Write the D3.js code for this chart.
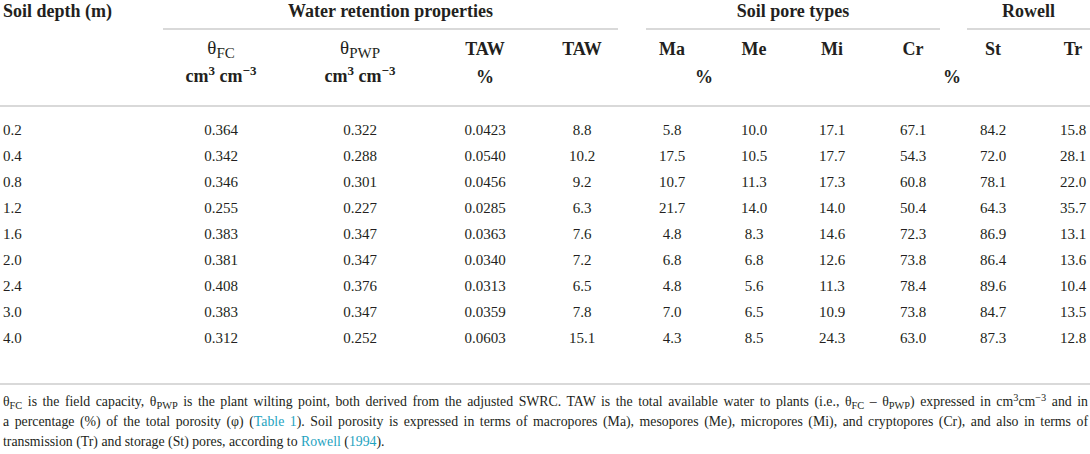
<!DOCTYPE html>
<html><head><meta charset="utf-8">
<script src="https://cdn.jsdelivr.net/npm/d3@7"></script>
<style>
html,body{margin:0;padding:0;background:#fff;}
svg{display:block;}
</style></head>
<body>
<svg id="chart" width="1090" height="454" font-family="Liberation Serif, Times New Roman, serif"></svg>
<script>
// ---- data ----
const depths = ["0.2","0.4","0.8","1.2","1.6","2.0","2.4","3.0","4.0"];
const thetaFC  = [0.364,0.342,0.346,0.255,0.383,0.381,0.408,0.383,0.312];
const thetaPWP = [0.322,0.288,0.301,0.227,0.347,0.347,0.376,0.347,0.252];
const tawVol   = [0.0423,0.0540,0.0456,0.0285,0.0363,0.0340,0.0313,0.0359,0.0603];
const tawPct   = [8.8,10.2,9.2,6.3,7.6,7.2,6.5,7.8,15.1];
const ma = [5.8,17.5,10.7,21.7,4.8,6.8,4.8,7.0,4.3];
const me = [10.0,10.5,11.3,14.0,8.3,6.8,5.6,6.5,8.5];
const mi = [17.1,17.7,17.3,14.0,14.6,12.6,11.3,10.9,24.3];
const cr = [67.1,54.3,60.8,50.4,72.3,73.8,78.4,73.8,63.0];
const st = [84.2,72.0,78.1,64.3,86.9,86.4,89.6,84.7,87.3];
const tr = [15.8,28.1,22.0,35.7,13.1,13.6,10.4,13.5,12.8];
const groupLabels = ["Water retention properties","Soil pore types","Rowell"];
const columnKeys = ["depth","fc","pwp","tawv","tawp","ma","me","mi","cr","st","tr"];

// ---- layout ----
const svg = d3.select("#chart");
const ink = "#231f20", rule = "#cccccc", link = "#1fa3bf";
const colX = d3.scaleOrdinal().domain(columnKeys)
  .range([3,221,360,485,582,672,754,832,913,993,1073]);
const rowY = d3.scaleBand().domain(depths).range([117,351]);

const columns = [
  {key:"depth", vals:depths, fmt:d=>d, anchor:"start"},
  {key:"fc", vals:thetaFC, fmt:d3.format(".3f")},
  {key:"pwp", vals:thetaPWP, fmt:d3.format(".3f")},
  {key:"tawv", vals:tawVol, fmt:d3.format(".4f")},
  {key:"tawp", vals:tawPct, fmt:d3.format(".1f")},
  {key:"ma", vals:ma, fmt:d3.format(".1f")},
  {key:"me", vals:me, fmt:d3.format(".1f")},
  {key:"mi", vals:mi, fmt:d3.format(".1f")},
  {key:"cr", vals:cr, fmt:d3.format(".1f")},
  {key:"st", vals:st, fmt:d3.format(".1f")},
  {key:"tr", vals:tr, fmt:d3.format(".1f")}
];

// rules
const groupRules = [{x1:163,x2:618},{x1:646,x2:940},{x1:967,x2:1090}];
svg.selectAll("line.grule").data(groupRules).join("line").attr("class","grule")
  .attr("x1",d=>d.x1).attr("x2",d=>d.x2).attr("y1",29).attr("y2",29)
  .attr("stroke",rule).attr("stroke-width",1.3);
svg.selectAll("line.hrule").data([106,384]).join("line").attr("class","hrule")
  .attr("x1",0).attr("x2",1090).attr("y1",d=>d).attr("y2",d=>d)
  .attr("stroke",rule).attr("stroke-width",1.3);

// header row 1
const hdr = svg.append("g").attr("fill",ink).attr("font-weight","bold").attr("font-size",18);
hdr.append("text").attr("x",3).attr("y",17).text("Soil depth (m)");
hdr.selectAll("text.grp").data(groupLabels).join("text").attr("class","grp")
  .attr("x",(d,i)=>(groupRules[i].x1+groupRules[i].x2)/2).attr("y",17)
  .attr("text-anchor","middle").text(d=>d);

// header row 2
function theta(g, x, sub){
  const t = g.append("text").attr("x",x).attr("y",54).attr("text-anchor","middle");
  t.append("tspan").attr("font-weight","normal").attr("font-size",19).text("θ");
  t.append("tspan").attr("font-weight","normal").attr("font-size",15).attr("dy",4).text(sub);
}
function unit(g, x){
  const t = g.append("text").attr("x",x).attr("y",82).attr("text-anchor","middle");
  t.append("tspan").text("cm");
  t.append("tspan").attr("font-size",13).attr("dy",-7).text("3");
  t.append("tspan").attr("dy",7).text(" cm");
  t.append("tspan").attr("font-size",13).attr("dy",-7).text("−3");
}
theta(hdr, colX("fc"), "FC"); unit(hdr, colX("fc"));
theta(hdr, colX("pwp"), "PWP"); unit(hdr, colX("pwp"));
const simpleHdr = [
  {k:"tawv",t:"TAW"},{k:"tawp",t:"TAW"},{k:"ma",t:"Ma"},{k:"me",t:"Me"},
  {k:"mi",t:"Mi"},{k:"cr",t:"Cr"},{k:"st",t:"St"},{k:"tr",t:"Tr"}
];
hdr.selectAll("text.sh").data(simpleHdr).join("text").attr("class","sh")
  .attr("x",d=>colX(d.k)).attr("y",55).attr("text-anchor","middle").text(d=>d.t);
const pctHdr = [colX("tawv"),704,952];
hdr.selectAll("text.pct").data(pctHdr).join("text").attr("class","pct")
  .attr("x",d=>d).attr("y",83).attr("text-anchor","middle").text("%");

// body
const body = svg.append("g").attr("fill",ink).attr("font-size",15);
columns.forEach(c=>{
  body.selectAll(null).data(c.vals.map((v,i)=>({v,i}))).join("text")
    .attr("x",colX(c.key))
    .attr("y",d=>rowY(depths[d.i])+rowY.bandwidth()/2+5)
    .attr("text-anchor",c.anchor||"middle")
    .text(d=>c.fmt(d.v));
});

// footnote
const S = (t)=>({t}), SUB=(t)=>({t,sub:1}), SUP=(t)=>({t,sup:1}), L=(t)=>({t,link:1});
const foot = [
  {y:406, justify:true, segs:[S("θ"),SUB("FC"),S(" is the field capacity, θ"),SUB("PWP"),
    S(" is the plant wilting point, both derived from the adjusted SWRC. TAW is the total available water to plants (i.e., θ"),
    SUB("FC"),S(" – θ"),SUB("PWP"),S(") expressed in cm"),SUP("3"),S("cm"),SUP("−3"),S(" and in")]},
  {y:426, justify:true, segs:[S("a percentage (%) of the total porosity (φ) ("),L("Table 1"),
    S("). Soil porosity is expressed in terms of macropores (Ma), mesopores (Me), micropores (Mi), and cryptopores (Cr), and also in terms of")]},
  {y:446, justify:false, segs:[S("transmission (Tr) and storage (St) pores, according to "),L("Rowell"),S(" ("),L("1994"),S(").")]}
];
const fs = 13.8;
const fg = svg.append("g").attr("font-size",fs).attr("fill",ink);
foot.forEach(line=>{
  const t = fg.append("text").attr("x",3).attr("y",line.y);
  let shift = 0;
  line.segs.forEach(s=>{
    const sp = t.append("tspan").text(s.t);
    let target = s.sub?3:(s.sup?-5:0);
    sp.attr("dy",target-shift); shift=target;
    if(s.sub||s.sup) sp.attr("font-size",fs*0.75);
    if(s.link) sp.attr("fill",link);
  });
  if(line.justify){
    const w = t.node().getComputedTextLength();
    const spaces = line.segs.map(s=>s.t).join("").split(" ").length-1;
    t.attr("word-spacing",Math.max(0,(1085-w)/spaces));
  }
});
</script>
</body></html>
